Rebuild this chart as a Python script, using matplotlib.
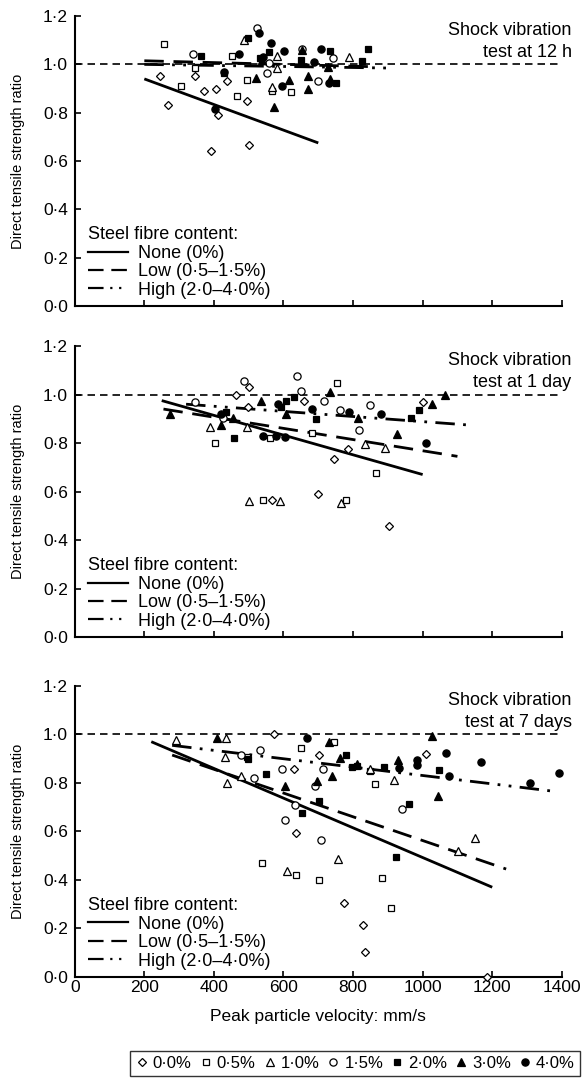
import matplotlib
matplotlib.use("Agg")
import matplotlib.pyplot as plt
from matplotlib.lines import Line2D
from matplotlib.ticker import FuncFormatter, MultipleLocator

plt.rcParams['font.family'] = ['Liberation Sans', 'DejaVu Sans']
plt.rcParams['font.size'] = 12.5

# ---- data: (ppv mm/s, strength ratio) per fibre content ----
# shock vibration at 12 h
h12_f00 = [(245, 0.95), (268, 0.83), (345, 0.95), (371, 0.89), (407, 0.90), (439, 0.93),
           (411, 0.79), (391, 0.64), (495, 0.85), (500, 0.665)]
h12_f05 = [(257, 1.083), (305, 0.911), (346, 0.986), (453, 1.036), (465, 0.868), (496, 0.935),
           (568, 0.89), (623, 0.887)]
h12_f10 = [(487, 1.10), (582, 1.034), (582, 0.986), (568, 0.905), (787, 1.029)]
h12_f15 = [(341, 1.045), (524, 1.149), (553, 0.964), (558, 1.004), (653, 1.063), (699, 0.931),
           (743, 1.028)]
h12_f20 = [(362, 1.033), (429, 0.965), (497, 1.11), (533, 1.025), (558, 1.052), (651, 1.02),
           (733, 1.056), (752, 0.925), (826, 1.016), (842, 1.062)]
h12_f30 = [(520, 0.942), (538, 1.02), (573, 0.822), (615, 0.935), (653, 1.06), (670, 0.90),
           (670, 0.95), (728, 0.99), (733, 0.938)]
h12_f40 = [(402, 0.815), (430, 0.97), (472, 1.045), (530, 1.13), (541, 1.03), (565, 1.088),
           (601, 1.056), (596, 0.91), (687, 1.008), (709, 1.062), (731, 0.924)]
h12_none = [(200, 0.94), (700, 0.675)]
h12_low = [(200, 1.015), (870, 0.99)]
h12_high = [(200, 1.0), (900, 0.985)]

# shock vibration at 1 day
d1_f00 = [(463, 1.0), (501, 1.029), (498, 0.949), (659, 0.974), (745, 0.733), (786, 0.774),
          (1001, 0.97), (566, 0.563), (699, 0.588), (903, 0.457)]
d1_f05 = [(754, 1.047), (402, 0.802), (560, 0.822), (683, 0.843), (867, 0.678), (541, 0.567),
          (781, 0.567)]
d1_f10 = [(390, 0.864), (495, 0.864), (833, 0.798), (891, 0.781), (501, 0.56), (589, 0.561),
          (764, 0.554)]
d1_f15 = [(346, 0.971), (486, 1.054), (640, 1.077), (651, 1.015), (716, 0.974), (761, 0.935),
          (848, 0.956), (817, 0.852), (426, 0.905)]
d1_f20 = [(608, 0.974), (629, 0.99), (594, 0.949), (693, 0.898), (458, 0.82), (967, 0.905),
          (989, 0.935), (434, 0.926)]
d1_f30 = [(275, 0.919), (419, 0.875), (455, 0.905), (536, 0.974), (608, 0.919), (733, 1.012),
          (814, 0.905), (926, 0.839), (1028, 0.96), (1065, 0.999)]
d1_f40 = [(584, 0.96), (682, 0.939), (541, 0.829), (578, 0.829), (603, 0.825), (788, 0.928),
          (881, 0.921), (1009, 0.802), (421, 0.919)]
d1_none = [(250, 0.975), (1000, 0.67)]
d1_low = [(255, 0.94), (1100, 0.745)]
d1_high = [(320, 0.96), (1125, 0.875)]

# shock vibration at 7 days
d7_f00 = [(572, 1.003), (701, 0.916), (630, 0.859), (635, 0.595), (1011, 0.918), (773, 0.303),
          (829, 0.214), (833, 0.102), (1185, 0.0)]
d7_f05 = [(649, 0.944), (744, 0.968), (862, 0.797), (495, 0.905), (848, 0.848), (539, 0.47),
          (637, 0.42), (702, 0.40), (883, 0.41), (910, 0.283)]
d7_f10 = [(292, 0.979), (434, 0.985), (433, 0.907), (438, 0.801), (477, 0.828), (918, 0.811),
          (1151, 0.573), (1103, 0.519), (757, 0.488), (610, 0.437), (848, 0.858)]
d7_f15 = [(477, 0.914), (532, 0.934), (514, 0.822), (596, 0.859), (714, 0.859), (690, 0.787),
          (632, 0.708), (603, 0.646), (709, 0.564), (942, 0.694)]
d7_f20 = [(497, 0.898), (551, 0.838), (654, 0.676), (702, 0.724), (779, 0.916), (798, 0.866),
          (889, 0.866), (1047, 0.852), (960, 0.712), (924, 0.493), (810, 0.87)]
d7_f30 = [(409, 0.985), (731, 0.968), (763, 0.902), (812, 0.879), (738, 0.828), (697, 0.807),
          (603, 0.787), (1027, 0.992), (929, 0.896), (1044, 0.745)]
d7_f40 = [(669, 0.985), (984, 0.896), (984, 0.872), (1066, 0.923), (1167, 0.886), (1392, 0.842),
          (1076, 0.827), (1310, 0.801), (932, 0.861)]
d7_none = [(220, 0.97), (1200, 0.37)]
d7_low = [(280, 0.915), (1240, 0.445)]
d7_high = [(280, 0.955), (1380, 0.765)]

fibre_labels = ['0·0%', '0·5%', '1·0%', '1·5%', '2·0%', '3·0%', '4·0%']
line_labels = ['None (0%)', 'Low (0·5–1·5%)', 'High (2·0–4·0%)']
panel_titles = ['Shock vibration\ntest at 12 h', 'Shock vibration\ntest at 1 day',
                'Shock vibration\ntest at 7 days']

# marker, facecolour, size
marker_styles = [('D', 'white', 3.8), ('s', 'white', 4.8), ('^', 'white', 5.4),
                 ('o', 'white', 5.2), ('s', 'black', 4.8), ('^', 'black', 5.8),
                 ('o', 'black', 5.2)]
line_styles = ['-', (0, (7, 3.5)), (0, (7, 3, 1, 3, 1, 3))]

fig = plt.figure(figsize=(5.84, 10.86), dpi=100)
positions = [[0.128, 0.7182, 0.834, 0.267],
             [0.128, 0.4134, 0.834, 0.268],
             [0.128, 0.1004, 0.834, 0.268]]

panels = [
    ([h12_f00, h12_f05, h12_f10, h12_f15, h12_f20, h12_f30, h12_f40], [h12_none, h12_low, h12_high]),
    ([d1_f00, d1_f05, d1_f10, d1_f15, d1_f20, d1_f30, d1_f40], [d1_none, d1_low, d1_high]),
    ([d7_f00, d7_f05, d7_f10, d7_f15, d7_f20, d7_f30, d7_f40], [d7_none, d7_low, d7_high]),
]

dot_fmt = FuncFormatter(lambda v, p: f"{v:.1f}".replace('.', '·'))

for i, (series, fits) in enumerate(panels):
    ax = fig.add_axes(positions[i])
    ax.set_xlim(0, 1400)
    ax.set_ylim(0, 1.2)

    ax.axhline(1.0, color='black', lw=1.2, ls=(0, (4.5, 3)), zorder=1)

    for fit, ls in zip(fits, line_styles):
        xs = [p[0] for p in fit]
        ys = [p[1] for p in fit]
        ax.plot(xs, ys, color='black', lw=2.0, ls=ls, zorder=2, solid_capstyle='butt',
                dash_capstyle='butt')

    for pts, (mk, fc, ms) in zip(series, marker_styles):
        xs = [p[0] for p in pts]
        ys = [p[1] for p in pts]
        ax.plot(xs, ys, ls='none', marker=mk, ms=ms, mfc=fc, mec='black', mew=0.9,
                zorder=3, clip_on=False)

    for side in ['top', 'right']:
        ax.spines[side].set_visible(False)
    ax.spines['left'].set_linewidth(1.5)
    ax.spines['bottom'].set_linewidth(1.5)

    ax.xaxis.set_major_locator(MultipleLocator(200))
    ax.yaxis.set_major_locator(MultipleLocator(0.2))
    ax.yaxis.set_major_formatter(dot_fmt)
    ax.tick_params(axis='both', direction='in', length=4, width=1.2, labelsize=12.5)
    ax.tick_params(axis='y', pad=5)
    ax.tick_params(axis='x', pad=2)
    if i < 2:
        ax.set_xticklabels([])
    else:
        ax.set_xlabel('Peak particle velocity: mm/s', fontsize=12.5, labelpad=10)

    ax.set_ylabel('Direct tensile strength ratio', fontsize=10.5)
    ax.yaxis.set_label_coords(-0.103, 0.5)

    ax.text(1.02, 0.98, panel_titles[i], transform=ax.transAxes, ha='right', va='top',
            fontsize=13, linespacing=1.4)

    handles = [Line2D([], [], color='black', lw=1.6, ls=ls) for ls in line_styles]
    leg = ax.legend(handles, line_labels, title='Steel fibre content:', loc='lower left',
                    bbox_to_anchor=(0.027, 0.025), borderaxespad=0, borderpad=0,
                    frameon=False, fontsize=13, title_fontsize=13, handlelength=2.2,
                    handletextpad=0.6, labelspacing=0.08, alignment='left')

marker_handles = [Line2D([], [], ls='none', marker=mk, ms=ms, mfc=fc, mec='black', mew=0.9)
                  for mk, fc, ms in marker_styles]
fig.legend(marker_handles, fibre_labels, loc='center', bbox_to_anchor=(0.608, 0.021),
           ncol=7, frameon=True, fancybox=False, edgecolor='black', fontsize=12,
           handlelength=0.8, handletextpad=0.25, columnspacing=0.45, borderpad=0.3)

fig.savefig('out.png', dpi=100)
